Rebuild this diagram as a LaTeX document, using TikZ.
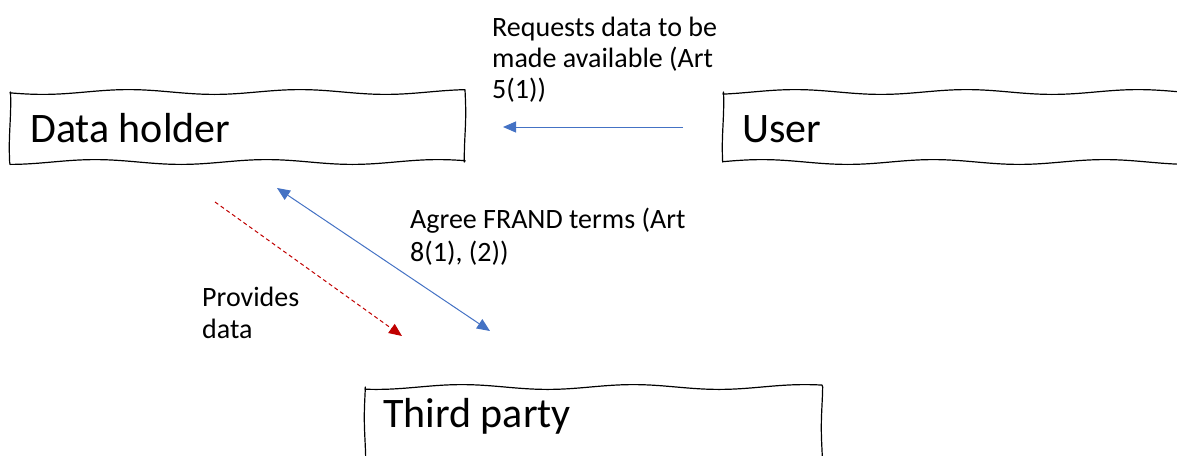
\documentclass[tikz,border=0pt]{standalone}
\usepackage{fontspec}
\setmainfont{Carlito}
\usetikzlibrary{arrows.meta,calc}

% hand-drawn looking rectangle: x1 y1 x2 y2 phase
\newcommand\wavyoutline[5]{%
  \draw[sketchline]
    plot[domain=#1:#3,samples=90,smooth] (\x,{#2+2.4*sin(2.1*\x+#5)})
    -- plot[domain=#2:#4,samples=12,smooth] ({#3+0.7*sin(4*\x)},\x)
    -- plot[domain=#3:#1,samples=90,smooth] (\x,{#4+2.4*sin(2.1*\x+#5+70)})
    -- plot[domain=#4:#2,samples=12,smooth] ({#1+0.7*sin(4*\x+40)},\x)
    -- cycle;}

\tikzset{
  sketchline/.style={line width=1.2pt, black, line join=round},
  boxarea/.style={rectangle, draw=none, inner sep=0pt},
  bigtext/.style={font=\fontsize{42}{50}\selectfont, inner sep=0pt, anchor=base west},
  smalltext/.style={inner sep=0pt, anchor=base west, align=left},
  bluearrow/.style={draw={rgb,255:red,68;green,114;blue,196}, line width=1pt,
    -{Triangle[length=13pt,width=11pt]}},
  bluedouble/.style={draw={rgb,255:red,68;green,114;blue,196}, line width=1pt,
    {Triangle[length=13pt,width=11pt]}-{Triangle[length=13pt,width=11pt]}},
  reddash/.style={draw={rgb,255:red,192;green,0;blue,0}, line width=1pt, dash pattern=on 4pt off 3pt,
    -{Triangle[length=13pt,width=11pt]}},
}

\begin{document}
\begin{tikzpicture}[x=1pt,y=-1pt]
  \useasboundingbox (0,0) rectangle (1177,455);

  % boxes
  \node[boxarea, minimum width=455, minimum height=70] (holder) at (237.5,127) {};
  \wavyoutline{10}{92}{465}{162}{0}
  \node[bigtext] (holdertext) at (30,142) {Data holder};

  \node[boxarea, minimum width=470, minimum height=70] (user) at (958,127) {};
  \wavyoutline{723}{92}{1195}{162}{40}
  \node[bigtext] (usertext) at (742,142) {User};

  \node[boxarea, minimum width=457, minimum height=90] (third) at (593.5,432) {};
  \wavyoutline{365}{387}{822}{480}{20}
  \node[bigtext] (thirdtext) at (383,427) {Third party};

  % arrow ends
  \coordinate (reqA) at (683,127);
  \coordinate (reqB) at (503,127);
  \coordinate (agrA) at (277,188);
  \coordinate (agrB) at (490,331);
  \coordinate (provA) at (215,202);
  \coordinate (provB) at (402,336);

  \draw[bluearrow] (reqA) -- (reqB);
  \draw[bluedouble] (agrA) -- (agrB);
  \draw[reddash] (provA) -- (provB);

  % labels (anchored at the baseline of their last line)
  \node[smalltext, font=\fontsize{28}{31}\selectfont] (reqlabel) at (492,98)
    {Requests data to be\\made available (Art\\5(1))};
  \node[smalltext, font=\fontsize{28}{33}\selectfont] (agrlabel) at (410,261)
    {Agree FRAND terms (Art\\8(1), (2))};
  \node[smalltext, font=\fontsize{28}{32}\selectfont] (provlabel) at (202,338)
    {Provides\\data};
\end{tikzpicture}
\end{document}
